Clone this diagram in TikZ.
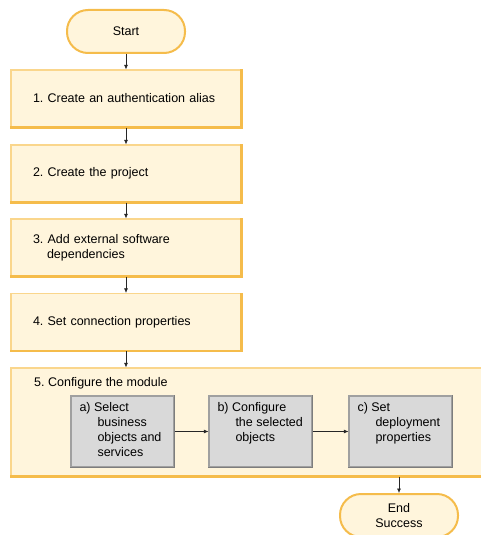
\documentclass[tikz,border=0pt]{standalone}
\usepackage{fontspec}
\setmainfont{Liberation Sans}
\usetikzlibrary{arrows.meta}
\frenchspacing

\definecolor{stepfill}{RGB}{255,245,220}
\definecolor{stepline}{RGB}{250,214,140}
\definecolor{stepedge}{RGB}{245,188,75}
\definecolor{subfill}{RGB}{217,217,217}
\definecolor{subline}{RGB}{160,160,160}
\definecolor{subedge}{RGB}{125,125,125}

% top aligned text block for the small grey boxes
\newcommand{\subtext}[1]{\parbox[c][58pt][t]{86pt}{\raggedright #1}}

\begin{document}
\begin{tikzpicture}[x=1pt, y=-1pt,
    font=\fontsize{12.5}{15}\selectfont,
    terminal/.style={draw=stepedge, line width=2pt, fill=stepfill, rounded corners=21pt,
        minimum width=118pt, minimum height=43pt, align=center, inner sep=0pt},
    stepbox/.style={draw=stepline, line width=1.2pt, fill=stepfill, minimum width=230pt,
        minimum height=57pt, text width=186pt, inner xsep=22pt, align=left},
    subbox/.style={draw=subline, line width=1.2pt, fill=subfill, minimum width=103pt,
        minimum height=71pt, inner xsep=8.5pt, inner ysep=6.5pt},
    arr/.style={-{Latex[length=4.5pt,width=4pt]}, line width=0.6pt, black!85}]

    \useasboundingbox (0,0) rectangle (480,535);

    % terminals
    \node[terminal] (start) at (126,31.5) {Start};

    % main steps
    \node[stepbox] (s1) at (126,98.5) {1. Create an authentication alias};
    \node[stepbox] (s2) at (126,173.5) {2. Create the project};
    \node[stepbox] (s3) at (126,247.5) {3. Add external software\\\hspace*{14pt}dependencies};
    \node[stepbox] (s4) at (126,322) {4. Set connection properties};

    % step 5 runs past the right edge
    \node[draw=stepline, line width=1.2pt, fill=stepfill, minimum width=484pt,
        minimum height=108pt] (m5) at (253,422) {};
    \node[anchor=west, inner sep=0pt] (m5t) at (34,383) {5. Configure the module};

    % shaded edges
    \foreach \n in {s1,s2,s3,s4}
        \draw[stepedge, line width=2.4pt] (\n.south west) -- (\n.south east) -- (\n.north east);
    \draw[stepedge, line width=2.4pt] (m5.south west) -- (m5.south east);

    % sub steps
    \node[subbox] (sa) at (122.5,431.5) {\subtext{a) Select\\\hspace*{18pt}business\\\hspace*{18pt}objects and\\\hspace*{18pt}services}};
    \node[subbox] (sb) at (260.5,431.5) {\subtext{b) Configure\\\hspace*{18pt}the selected\\\hspace*{18pt}objects}};
    \node[subbox] (sc) at (400.5,431.5) {\subtext{c) Set\\\hspace*{18pt}deployment\\\hspace*{18pt}properties}};
    \foreach \n in {sa,sb,sc}
        \draw[subedge, line width=1.6pt] (\n.south west) -- (\n.south east) -- (\n.north east);

    \node[terminal] (end) at (399,515.5) {End\\Success};

    % connectors
    \draw[arr] (start) -- (s1);
    \draw[arr] (s1) -- (s2);
    \draw[arr] (s2) -- (s3);
    \draw[arr] (s3) -- (s4);
    \draw[arr] (s4.south) -- (m5.north -| s4.south);
    \draw[arr] (sa) -- (sb);
    \draw[arr] (sb) -- (sc);
    \draw[arr] (m5.south -| end.north) -- (end);
\end{tikzpicture}
\end{document}
